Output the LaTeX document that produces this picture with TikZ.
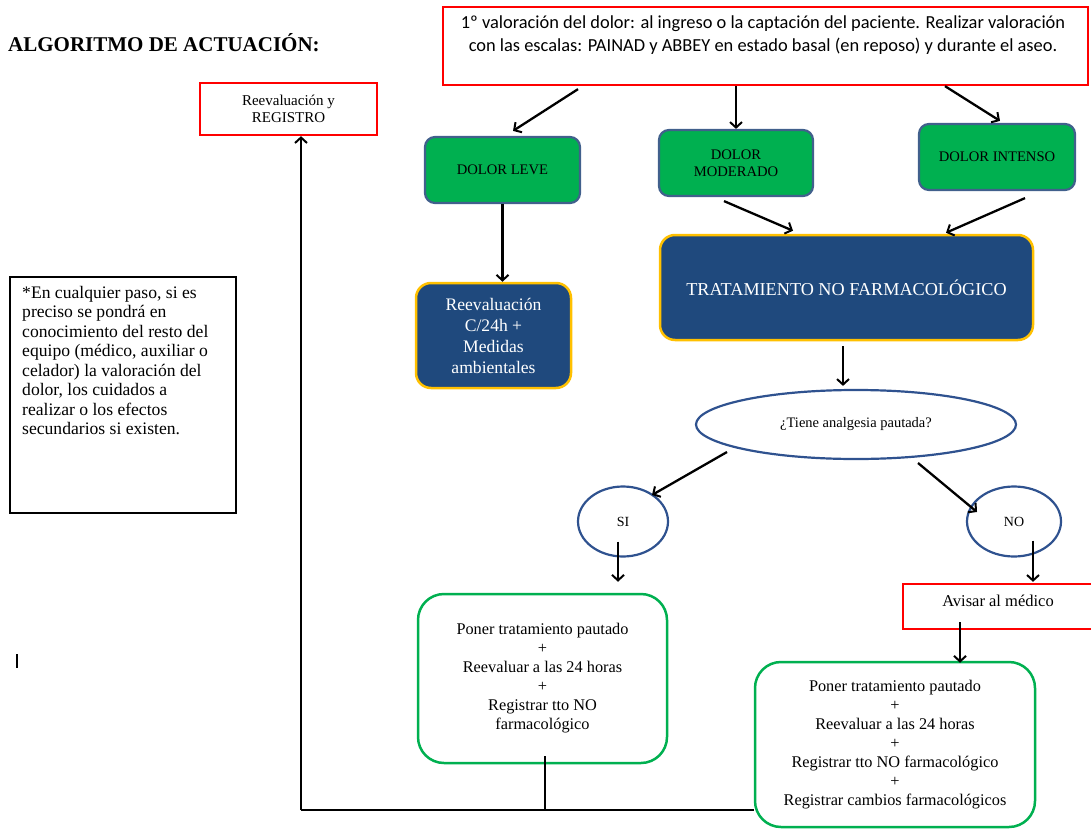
\documentclass[tikz,border=0pt]{standalone}
\usepackage{fontspec}
\setmainfont{Liberation Serif}
\newfontfamily\calib{Carlito}
\usetikzlibrary{arrows.meta,shapes.geometric,calc}
\definecolor{ggreen}{RGB}{0,176,80}
\definecolor{slate}{RGB}{65,96,140}
\definecolor{dblue}{RGB}{31,73,125}
\definecolor{gold}{RGB}{255,192,0}
\definecolor{ellblue}{RGB}{47,82,143}
\definecolor{lgreen}{RGB}{0,176,80}
\tikzset{
  arr/.style={line width=2.3pt,-{Straight Barb[length=5.5pt,width=12pt,line width=2pt]}},
  plain/.style={line width=2.3pt},
  redbox/.style={draw=red,line width=2.3pt,inner sep=0pt},
  greenbox/.style={draw=slate,fill=ggreen,line width=2.2pt,rounded corners=10pt,inner sep=0pt,align=center,font=\fontsize{14.6}{17}\selectfont},
  bluebox/.style={draw=gold,fill=dblue,line width=2.5pt,rounded corners=15pt,inner sep=0pt,text=white,align=center},
  outlinebox/.style={draw=lgreen,line width=2.5pt,rounded corners=26pt,inner sep=0pt,align=center,font=\fontsize{16.3}{19}\selectfont},
  oval/.style={ellipse,draw=ellblue,line width=2.2pt,inner sep=0pt},
}
\begin{document}
\begin{tikzpicture}[x=1pt,y=-1pt]
\useasboundingbox (0,0) rectangle (1091,829);
% title
\node[anchor=west,inner sep=0pt,font=\bfseries\fontsize{21}{24}\selectfont] (title) at (8,43) {ALGORITMO DE ACTUACIÓN:};
% top box
\node[redbox,minimum width=645,minimum height=78] (top) at (765.5,46) {};
\node[inner sep=0pt,align=center,font=\calib\fontsize{18.4}{23}\selectfont] (toptxt) at (763,35.5) {1º valoración del dolor: al ingreso o la captación del paciente. Realizar valoración\\con las escalas: PAINAD y ABBEY en estado basal (en reposo) y durante el aseo.};
% registro
\node[redbox,minimum width=177,minimum height=52,align=center,font=\fontsize{15}{17}\selectfont] (reg) at (288.5,109) {Reevaluación y\\REGISTRO};
% green boxes
\node[greenbox,minimum width=155,minimum height=66] (leve) at (502.5,170) {DOLOR LEVE};
\node[greenbox,minimum width=154,minimum height=66] (mod) at (736,163) {DOLOR\\MODERADO};
\node[greenbox,minimum width=156,minimum height=66] (int) at (997,157) {DOLOR INTENSO};
% blue boxes
\node[bluebox,minimum width=373,minimum height=105,font=\fontsize{18.2}{20}\selectfont] (trat) at (846.5,287.5) {TRATAMIENTO NO FARMACOLÓGICO};
\node[bluebox,minimum width=155,minimum height=105,font=\fontsize{17.6}{21}\selectfont] (reev) at (493.5,335.5) {Reevaluación\\C/24h +\\Medidas\\ambientales};
% note
\node[draw,line width=1.2pt,minimum width=226,minimum height=236,inner sep=0pt] (note) at (123,395) {};
\node[anchor=north west,inner sep=0pt,align=left,font=\fontsize{17.6}{19.5}\selectfont] (notetxt) at (22,286) {*En cualquier paso, si es\\preciso se pondrá en\\conocimiento del resto del\\equipo (médico, auxiliar o\\celador) la valoración del\\dolor, los cuidados a\\realizar o los efectos\\secundarios si existen.};
% ellipse and circles
\node[oval,minimum width=320,minimum height=69,font=\fontsize{14.5}{16}\selectfont] (ell) at (856,424.5) {¿Tiene analgesia pautada?};
\node[oval,minimum width=90,minimum height=70,font=\fontsize{14}{16}\selectfont] (si) at (623,521.5) {SI};
\node[oval,minimum width=94,minimum height=70,font=\fontsize{14}{16}\selectfont] (no) at (1014,521.5) {NO};
% avisar
\node[redbox,minimum width=192,minimum height=45] (avis) at (999,606.5) {};
\node[inner sep=0pt,font=\fontsize{16.5}{18}\selectfont] (avistxt) at (998,601) {Avisar al médico};
% bottom boxes
\node[outlinebox,minimum width=249,minimum height=169] (sibox) at (542.5,678.5) {Poner tratamiento pautado\\+\\Reevaluar a las 24 horas\\+\\Registrar tto NO\\farmacológico};
\node[outlinebox,minimum width=280,minimum height=165] (nobox) at (895,744.5) {Poner tratamiento pautado\\+\\Reevaluar a las 24 horas\\+\\Registrar tto NO farmacológico\\+\\Registrar cambios farmacológicos};
% arrows
\draw[arr] ($(top.south)+(-187.5,3)$) -- ($(leve.north)+(10.5,-5)$);
\draw[arr] (top.south -| mod.north) -- (mod.north);
\draw[arr] ($(top.south)+(179.5,0)$) -- ($(int.north)+(3,-2)$);
\draw[arr] ($(mod.south)+(-12,4)$) -- ($(trat.north)+(-53.5,-3)$);
\draw[arr] ($(int.south)+(28,7)$) -- ($(trat.north)+(99.5,-1)$);
\draw[arr] (leve.south) -- (leve.south |- reev.north);
\draw[arr] ($(trat.south)+(-3.5,5)$) -- ($(ell.north)+(-13,-3)$);
\draw[arr] ($(ell.center)+(-129,27.5)$) -- ($(si.center)+(29,-26.5)$);
\draw[arr] ($(ell.center)+(62,38.5)$) -- ($(no.center)+(-37,-9.5)$);
\draw[arr] ($(si.center)+(-5,20)$) -- ($(sibox.north)+(75.5,-11)$);
\draw[arr] ($(no.center)+(19,19)$) -- ($(avis.north)+(34,-1)$);
\draw[arr] ($(avis.south)+(-39,-8)$) -- ($(nobox.north)+(65,2)$);
% return path
\coordinate (c1) at (301,810);
\draw[plain] ($(sibox.south)+(2.5,-8)$) -- ($(sibox.south)+(2.5,47)$);
\draw[plain] (c1) -- (c1 -| nobox.west);
\draw[arr] (c1) -- (c1 |- reg.south);
% stray mark
\draw[line width=1.2pt] (17,654) -- (17,668);
\end{tikzpicture}
\end{document}
